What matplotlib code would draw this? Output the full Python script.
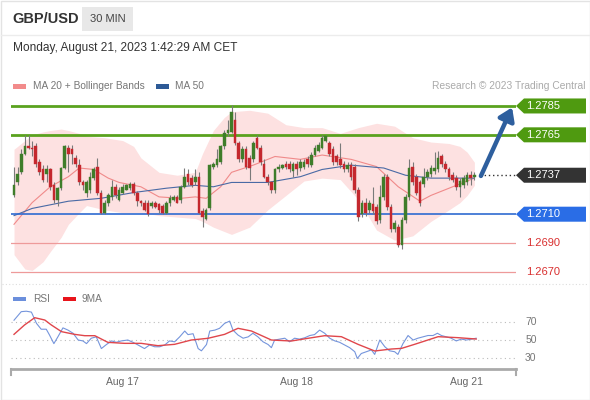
import matplotlib.pyplot as plt
from matplotlib.patches import Polygon, Rectangle

plt.rcParams['font.family'] = ['Liberation Sans', 'DejaVu Sans']

# GBP/USD 30 min candles, oldest first (index 0 = Aug 16 ~09:00)
opens = [1.2723, 1.2732, 1.2739, 1.2752, 1.2757, 1.2756, 1.2757, 1.2746, 1.2741, 1.2738,
         1.2741, 1.2730, 1.2720, 1.2728, 1.2742, 1.2756, 1.2755, 1.2749, 1.2744, 1.2732,
         1.2725, 1.2727, 1.2735, 1.2743, 1.2725, 1.2711, 1.2718, 1.2722, 1.2729, 1.2720,
         1.2725, 1.2727, 1.2728, 1.2731, 1.2725, 1.2719, 1.2718, 1.2718, 1.2716, 1.2718,
         1.2717, 1.2716, 1.2711, 1.2718, 1.2720, 1.2722, 1.2720, 1.2729, 1.2738, 1.2735,
         1.2732, 1.2736, 1.2712, 1.2707, 1.2714, 1.2743, 1.2744, 1.2746, 1.2757, 1.2766,
         1.2767, 1.2775, 1.2759, 1.2748, 1.2755, 1.2749, 1.2748, 1.2763, 1.2756, 1.2745,
         1.2736, 1.2732, 1.2727, 1.2741, 1.2742, 1.2745, 1.2745, 1.2740, 1.2745, 1.2742,
         1.2743, 1.2748, 1.2744, 1.2751, 1.2754, 1.2756, 1.2761, 1.2759, 1.2755, 1.2750,
         1.2748, 1.2745, 1.2741, 1.2744, 1.2743, 1.2727, 1.2710, 1.2718, 1.2713, 1.2717,
         1.2715, 1.2706, 1.2722, 1.2736, 1.2715, 1.2700, 1.2701, 1.2689, 1.2706, 1.2722,
         1.2743, 1.2736, 1.2732, 1.2731, 1.2736, 1.2738, 1.2740, 1.2741, 1.2750, 1.2745,
         1.2741, 1.2737, 1.2735, 1.2729, 1.2730, 1.2732, 1.2737, 1.2736]
closes = [1.2730, 1.2738, 1.2752, 1.2757, 1.2756, 1.2755, 1.2745, 1.2739, 1.2734, 1.2741,
          1.2729, 1.2720, 1.2728, 1.2742, 1.2757, 1.2752, 1.2752, 1.2745, 1.2732, 1.2730,
          1.2732, 1.2736, 1.2741, 1.2725, 1.2711, 1.2718, 1.2723, 1.2729, 1.2723, 1.2727,
          1.2729, 1.2730, 1.2731, 1.2725, 1.2719, 1.2718, 1.2713, 1.2710, 1.2718, 1.2715,
          1.2713, 1.2711, 1.2718, 1.2721, 1.2722, 1.2718, 1.2729, 1.2736, 1.2732, 1.2730,
          1.2736, 1.2711, 1.2708, 1.2713, 1.2744, 1.2745, 1.2748, 1.2757, 1.2766, 1.2768,
          1.2781, 1.2759, 1.2748, 1.2755, 1.2743, 1.2742, 1.2759, 1.2756, 1.2746, 1.2736,
          1.2732, 1.2727, 1.2741, 1.2743, 1.2744, 1.2743, 1.2741, 1.2745, 1.2741, 1.2746,
          1.2746, 1.2745, 1.2751, 1.2756, 1.2758, 1.2763, 1.2764, 1.2752, 1.2746, 1.2746,
          1.2744, 1.2741, 1.2744, 1.2736, 1.2727, 1.2708, 1.2718, 1.2711, 1.2718, 1.2712,
          1.2705, 1.2722, 1.2736, 1.2715, 1.2700, 1.2704, 1.2689, 1.2706, 1.2722, 1.2742,
          1.2732, 1.2725, 1.2718, 1.2736, 1.2739, 1.2742, 1.2742, 1.2749, 1.2745, 1.2741,
          1.2736, 1.2734, 1.2729, 1.2733, 1.2735, 1.2737, 1.2735, 1.2737]
highs = [1.2743, 1.2743, 1.2755, 1.2765, 1.2765, 1.2761, 1.2759, 1.2748, 1.2744, 1.2744,
         1.2742, 1.2732, 1.2729, 1.2743, 1.2758, 1.2758, 1.2758, 1.2751, 1.2748, 1.2734,
         1.2734, 1.2739, 1.2743, 1.2749, 1.2727, 1.2720, 1.2725, 1.2734, 1.2731, 1.2729,
         1.2731, 1.2731, 1.2732, 1.2732, 1.2726, 1.2720, 1.2720, 1.2720, 1.2719, 1.2719,
         1.2718, 1.2717, 1.2719, 1.2723, 1.2723, 1.2723, 1.2730, 1.2742, 1.2741, 1.2737,
         1.2741, 1.2739, 1.2714, 1.2714, 1.2745, 1.2746, 1.2755, 1.2758, 1.2768, 1.2775,
         1.2786, 1.2781, 1.2761, 1.2757, 1.2757, 1.2751, 1.2761, 1.2765, 1.2758, 1.2748,
         1.2738, 1.2733, 1.2742, 1.2745, 1.2745, 1.2747, 1.2747, 1.2746, 1.2747, 1.2748,
         1.2748, 1.2750, 1.2753, 1.2758, 1.2760, 1.2765, 1.2765, 1.2761, 1.2757, 1.2752,
         1.2759, 1.2747, 1.2746, 1.2746, 1.2745, 1.2729, 1.2720, 1.2721, 1.2720, 1.2729,
         1.2717, 1.2730, 1.2738, 1.2738, 1.2717, 1.2706, 1.2703, 1.2708, 1.2724, 1.2748,
         1.2746, 1.2738, 1.2734, 1.2742, 1.2741, 1.2744, 1.2753, 1.2754, 1.2752, 1.2747,
         1.2743, 1.2739, 1.2737, 1.2735, 1.2737, 1.2739, 1.2740, 1.2739]
lows = [1.2722, 1.2730, 1.2738, 1.2751, 1.2755, 1.2750, 1.2743, 1.2737, 1.2732, 1.2732,
        1.2727, 1.2718, 1.2716, 1.2727, 1.2741, 1.2739, 1.2745, 1.2743, 1.2730, 1.2727,
        1.2722, 1.2725, 1.2734, 1.2723, 1.2710, 1.2710, 1.2716, 1.2720, 1.2721, 1.2719,
        1.2724, 1.2727, 1.2727, 1.2723, 1.2716, 1.2716, 1.2712, 1.2709, 1.2714, 1.2714,
        1.2711, 1.2710, 1.2710, 1.2716, 1.2719, 1.2718, 1.2718, 1.2728, 1.2730, 1.2729,
        1.2730, 1.2710, 1.2701, 1.2706, 1.2713, 1.2741, 1.2743, 1.2745, 1.2755, 1.2764,
        1.2766, 1.2758, 1.2746, 1.2746, 1.2741, 1.2734, 1.2746, 1.2755, 1.2744, 1.2735,
        1.2730, 1.2725, 1.2725, 1.2739, 1.2741, 1.2741, 1.2739, 1.2736, 1.2737, 1.2740,
        1.2741, 1.2743, 1.2743, 1.2750, 1.2753, 1.2755, 1.2760, 1.2750, 1.2744, 1.2744,
        1.2742, 1.2739, 1.2739, 1.2734, 1.2725, 1.2705, 1.2708, 1.2709, 1.2711, 1.2710,
        1.2703, 1.2704, 1.2720, 1.2713, 1.2698, 1.2698, 1.2687, 1.2686, 1.2704, 1.2720,
        1.2730, 1.2723, 1.2716, 1.2729, 1.2734, 1.2736, 1.2738, 1.2739, 1.2743, 1.2739,
        1.2734, 1.2732, 1.2727, 1.2722, 1.2728, 1.2730, 1.2730, 1.2734]

# indicators read at sample candles
band_idx = [0, 3, 5, 8, 10, 13, 15, 18, 20, 25, 30, 33, 35, 38, 40, 45, 50, 52, 55, 58,
            60, 65, 70, 75, 80, 85, 90, 95, 100, 105, 110, 115, 120, 123, 125, 127]
band_up = [1.2755, 1.2761, 1.2765, 1.2767, 1.2768, 1.2769, 1.2768, 1.2766, 1.2764, 1.2763,
           1.2761, 1.2757, 1.2749, 1.2743, 1.2739, 1.2737, 1.2739, 1.2752, 1.2768, 1.2777,
           1.2781, 1.2782, 1.2780, 1.2772, 1.2770, 1.2770, 1.2766, 1.2770, 1.2773, 1.2771,
           1.2763, 1.2760, 1.2759, 1.2757, 1.2753, 1.2746]
band_lo = [1.2682, 1.2672, 1.2671, 1.2677, 1.2684, 1.2694, 1.2703, 1.2711, 1.2716, 1.2713,
           1.2711, 1.2711, 1.2711, 1.2710, 1.2709, 1.2708, 1.2707, 1.2705, 1.2701, 1.2698,
           1.2696, 1.2701, 1.2713, 1.2723, 1.2733, 1.2735, 1.2734, 1.2720, 1.2699, 1.2692,
           1.2695, 1.2705, 1.2713, 1.2718, 1.2723, 1.2730]
ma20_idx = [0, 5, 10, 15, 18, 22, 26, 29, 35, 40, 46, 50, 53, 57, 60, 66, 72, 79, 85, 93,
            100, 106, 112, 115, 119, 127]
ma20 = [1.2703, 1.2718, 1.2729, 1.2736, 1.2742, 1.2741, 1.2735, 1.2732, 1.2729, 1.2722,
        1.2721, 1.2722, 1.2721, 1.2729, 1.2739, 1.2744, 1.2750, 1.2748, 1.2751, 1.2748,
        1.2743, 1.2729, 1.2719, 1.2723, 1.2727, 1.2735]
ma50_idx = [0, 5, 15, 24, 33, 42, 50, 55, 60, 70, 79, 85, 93, 102, 108, 115, 127]
ma50 = [1.2709, 1.2714, 1.2719, 1.2721, 1.2725, 1.2728, 1.2730, 1.2729, 1.2732, 1.2732,
        1.2736, 1.2741, 1.2744, 1.2742, 1.2737, 1.2735, 1.2735]

rsi_idx = [0, 2.0, 3.4, 4.8, 6.2, 7.5, 8.9, 9.8, 11.0, 12.1, 13.5, 14.9, 16.3, 17.7, 19.0,
           20.0, 21.3, 22.7, 24.1, 25.5, 26.9, 28.2, 29.6, 31.4, 32.8, 34.2, 36.0, 37.4,
           38.8, 40.2, 41.6, 42.9, 44.3, 45.7, 47.1, 48.0, 49.4, 50.8, 51.7, 53.1, 54.0,
           55.4, 56.7, 58.1, 59.5, 60.4, 61.8, 63.2, 64.6, 65.9, 67.3, 68.7, 70.1, 71.0,
           71.9, 73.3, 74.7, 76.0, 77.4, 78.8, 80.2, 81.6, 82.9, 84.3, 85.7, 87.1, 88.5,
           89.8, 91.2, 92.6, 94.0, 94.7, 95.8, 97.2, 98.6, 99.5, 100.9, 102.3, 103.6, 105.0,
           105.9, 107.3, 108.7, 110.1, 111.4, 112.8, 114.2, 115.6, 116.8, 117.9, 119.3,
           120.6, 122.0, 123.4, 124.8, 126.2, 127.5]
rsi = [72, 81.5, 82, 81, 68.5, 62, 62, 55.5, 46, 53.5, 63.5, 61, 57.5, 50, 49,
       46, 52, 53.5, 40.5, 45, 49, 47.5, 49, 50, 47.5, 44.5, 40.5, 44.5,
       42.5, 42.5, 44.5, 49, 48, 53.5, 60, 56, 57, 40.5, 38, 45, 60,
       61, 63, 68.5, 71, 61, 55.5, 52, 53.5, 57.5, 53.5, 48, 45, 41.5,
       50, 51, 52, 48, 52, 51, 52.5, 55, 56, 61, 57.5, 52, 49,
       47.5, 44.5, 41.5, 37, 29.5, 35, 37, 39, 34, 50, 42.5, 38, 37,
       34, 46, 55, 50, 52, 53.5, 55, 55, 57.5, 55, 53.5,
       52, 49, 51, 50, 51, 52]
rsi_ma_idx = [0, 2.9, 5.7, 8.5, 10.3, 13.1, 16.7, 19.5, 22.3, 25.9, 30.5, 35.1, 39.7, 44.3,
              48.9, 53.5, 58.1, 61.8, 65.5, 71.0, 76.5, 81.1, 85.7, 90.3, 94.9, 99.5,
              104.1, 106.9, 110.5, 117.0, 122.5, 127.5]
rsi_ma = [56.3, 66.7, 74.8, 72.2, 66.7, 59.3, 56.3, 54.8, 54.8, 47.4, 46.3, 46.3, 43.7, 45.2,
          50, 51.9, 56.3, 63, 60, 50, 48.9, 51.9, 54.8, 53.7, 45.2, 37.8,
          40, 40.7, 45.2, 53.7, 52.6, 51.1]

levels = [1.2785, 1.2765, 1.2737, 1.2710, 1.2690, 1.2670]
date_tick_pos = [30, 78, 124.7]
date_tick_lbl = ["Aug 17", "Aug 18", "Aug 21"]

W, H = 590, 400


def fx(px):
    return px / W


def fy(py):
    return 1 - py / H


fig = plt.figure(figsize=(W / 100, H / 100), dpi=100)
fig.patch.set_facecolor('white')

# frame + header
fig.patches.append(Rectangle((fx(0.5), fy(399.5)), fx(589), 399 / H, transform=fig.transFigure,
                             fill=False, ec='#e3e3e3', lw=1))
fig.add_artist(plt.Line2D([fx(1), fx(589)], [fy(35), fy(35)], color='#ececec', lw=1))
fig.patches.append(Rectangle((fx(82), fy(31)), fx(51), 24 / H, transform=fig.transFigure,
                             fc='#e8e8e8', ec='none'))
fig.text(fx(12), fy(19), "GBP/USD", fontsize=10.5, fontweight='bold', color='#333333', va='center')
fig.text(fx(107.5), fy(19), "30 MIN", fontsize=8, color='#444444', va='center', ha='center')
fig.text(fx(13), fy(48), "Monday, August 21, 2023 1:42:29 AM CET", fontsize=8.6,
         color='#333333', va='center')

# legends
fig.patches.append(Rectangle((fx(13), fy(88.5)), fx(13), 5 / H, transform=fig.transFigure,
                             fc='#f28b8b', ec='none'))
fig.text(fx(33), fy(86), "MA 20 + Bollinger Bands", fontsize=7.3, color='#777777', va='center')
fig.patches.append(Rectangle((fx(156), fy(88.5)), fx(13), 5 / H, transform=fig.transFigure,
                             fc='#2d5a96', ec='none'))
fig.text(fx(175), fy(86), "MA 50", fontsize=7.3, color='#777777', va='center')
fig.text(fx(586), fy(86), "Research \u00a9 2023 Trading Central", fontsize=7.4, color='#aaaaaa',
         va='center', ha='right')

fig.patches.append(Rectangle((fx(13), fy(301)), fx(13), 4 / H, transform=fig.transFigure,
                             fc='#6b8fdc', ec='none'))
fig.text(fx(33), fy(299), "RSI", fontsize=7.3, color='#777777', va='center')
fig.patches.append(Rectangle((fx(63), fy(301)), fx(13), 4 / H, transform=fig.transFigure,
                             fc='#e8141b', ec='none'))
fig.text(fx(82), fy(299), "9MA", fontsize=7.3, color='#777777', va='center')

# separator between panels
fig.add_artist(plt.Line2D([fx(2), fx(588)], [fy(284), fy(284)], color='#dddddd', lw=0.8,
                          linestyle=(0, (1, 2))))

xmin, xmax = -0.83, 138.48

# main price panel
ax = fig.add_axes([fx(11), fy(280), fx(505), 185 / H])
ax.set_xlim(xmin, xmax)
ax.set_ylim(1.26644, 1.27926)
ax.axis('off')

ax.fill_between(band_idx, band_lo, band_up, color='#fde1e1', lw=0, zorder=1)
ax.plot(ma20_idx, ma20, color='#f08a8a', lw=0.8, zorder=2)
ax.plot(ma50_idx, ma50, color='#4a6aa5', lw=0.8, zorder=2)

ax.axhline(levels[0], color='#5aa21e', lw=2, zorder=3)
ax.axhline(levels[1], color='#5aa21e', lw=2, zorder=3)
ax.axhline(levels[3], color='#2f6bd1', lw=1.2, zorder=3)
ax.axhline(levels[4], color='#ee9a9a', lw=0.9, zorder=3)
ax.axhline(levels[5], color='#ee9a9a', lw=0.9, zorder=3)

idx = list(range(len(closes)))
up = [c >= o for o, c in zip(opens, closes)]
body_col = ['#3f7d2a' if u else '#c4282e' for u in up]
ax.vlines(idx, lows, highs, color='#7a7a7a', lw=0.8, zorder=4)
ax.bar(idx, [max(abs(c - o), 0.00004) for o, c in zip(opens, closes)], width=0.72,
       bottom=[min(o, c) for o, c in zip(opens, closes)], color=body_col,
       edgecolor=body_col, lw=0.3, zorder=5)

# projection arrow and current price marker
ax.plot([128.5, xmax], [levels[2], levels[2]], color='#333333', lw=1, linestyle=(0, (1, 2)),
        zorder=5)
ax.annotate("", xy=(137.4, 1.2784), xytext=(128.8, 1.27365),
            arrowprops=dict(arrowstyle='-|>,head_length=0.75,head_width=0.5', color='#2e5f9e',
                            lw=3.2, shrinkA=0, shrinkB=0), zorder=6)

# price tags on the right
ytr = ax.get_yaxis_transform()
half = 0.00052
tag_l, tag_b, tag_r = 1.0, 1.0158, 1.1386
for lvl, col in [(levels[0], '#4f9a10'), (levels[1], '#4f9a10'), (levels[2], '#333333'),
                 (levels[3], '#2a6de6')]:
    ax.add_patch(Polygon([(tag_l, lvl), (tag_b, lvl + half), (tag_r, lvl + half),
                          (tag_r, lvl - half), (tag_b, lvl - half)], closed=True,
                         transform=ytr, fc=col, ec='none', clip_on=False))
    ax.text(1.019, lvl, f"{lvl:.4f}", transform=ytr, color='white', fontsize=8,
            va='center', ha='left')
for lvl in levels[4:]:
    ax.text(1.019, lvl, f"{lvl:.4f}", transform=ytr, color='#d93030', fontsize=8,
            va='center', ha='left')

# RSI panel
ax2 = fig.add_axes([fx(11), fy(369), fx(505), 64 / H])
ax2.set_xlim(xmin, xmax)
ax2.set_ylim(17.8, 88.9)
ax2.axis('off')
for g in [70, 50, 30]:
    ax2.axhline(g, color='#bbbbbb', lw=0.8, linestyle=(0, (1, 3)))
    ax2.text(1.018, g, str(g), transform=ax2.get_yaxis_transform(), fontsize=7.5,
             color='#777777', va='center', ha='left')
ax2.plot(rsi_idx, rsi, color='#7595dc', lw=0.8)
ax2.plot(rsi_ma_idx, rsi_ma, color='#e0464b', lw=1)

xtr = ax2.get_xaxis_transform()
ax2.plot([0, 1], [0, 0], transform=ax2.transAxes, color='#aaaaaa', lw=2, clip_on=False)
ax2.plot([0, 0], [0, -0.09], transform=ax2.transAxes, color='#aaaaaa', lw=1.5, clip_on=False)
ax2.plot([1, 1], [0, -0.09], transform=ax2.transAxes, color='#aaaaaa', lw=1.5, clip_on=False)
for pos, lbl in zip(date_tick_pos, date_tick_lbl):
    ax2.text(pos, -0.2, lbl, transform=xtr, fontsize=7.5, color='#666666', ha='center',
             va='center')

fig.savefig("out.png", dpi=100)
